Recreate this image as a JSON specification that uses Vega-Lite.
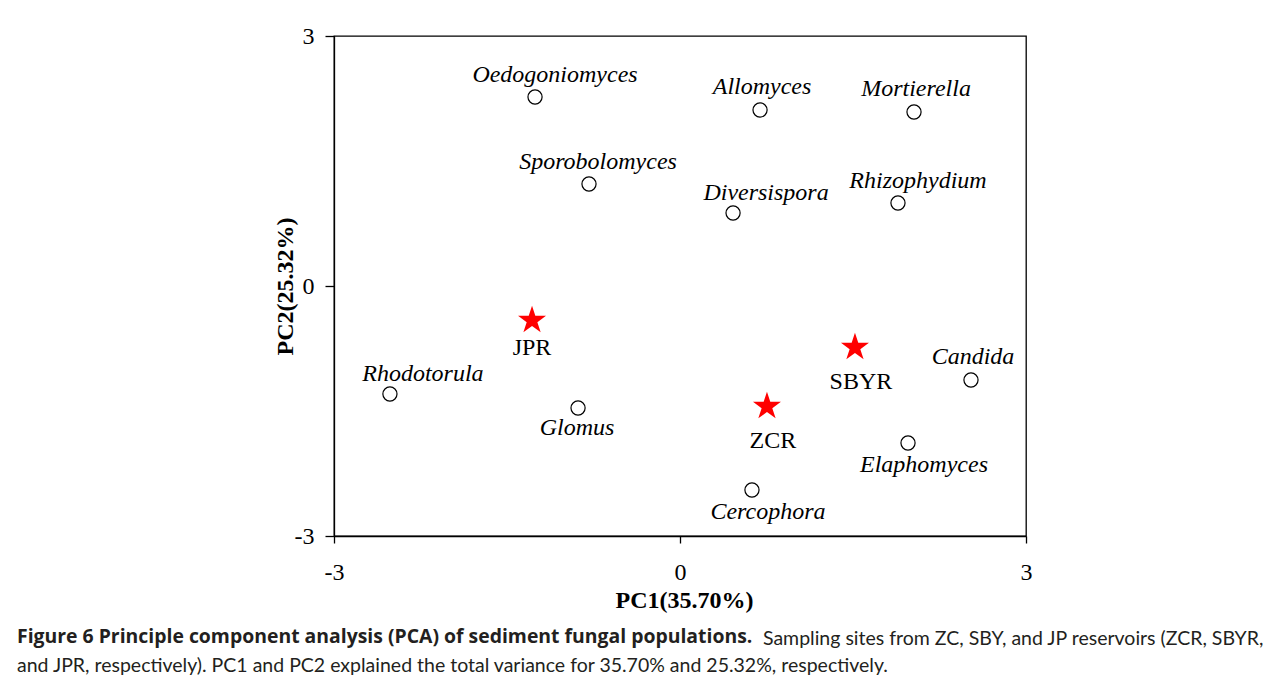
{
  "$schema": "https://vega.github.io/schema/vega-lite/v6.json",
  "width": 692,
  "height": 500,
  "autosize": {"type": "none"},
  "padding": {"left": 334, "top": 36, "right": 256, "bottom": 148},
  "background": "white",
  "config": {
    "view": {"stroke": "#000", "strokeWidth": 1.3},
    "font": "Liberation Serif"
  },
  "title": {
    "text": "Figure 6 Principle component analysis (PCA) of sediment fungal populations.",
    "subtitle": [
      "\u200b\u2003\u2003\u2003\u2003\u2003\u2003\u2003\u2003\u2003\u2003\u2003\u2003\u2003\u2003\u2003\u2003\u2003\u2003\u2003\u2003\u2003\u2003\u2003\u2003\u2003\u2003\u2003\u2003\u2003\u2003\u2003\u2003\u2003\u2003\u2003\u2003\u2003\u2003\u2003\u2003\u2003\u2003\u2003\u2003\u2003\u2003\u2003\u2003\u2003\u2003\u2002\u00a0Sampling sites from ZC, SBY, and JP reservoirs (ZCR, SBYR,",
      "and JPR, respectively). PC1 and PC2 explained the total variance for 35.70% and 25.32%, respectively."
    ],
    "orient": "bottom",
    "anchor": "start",
    "frame": "group",
    "dx": -317,
    "offset": 16,
    "font": "Open Sans",
    "fontSize": 19.4,
    "fontWeight": "bold",
    "color": "#231f20",
    "lineHeight": 26,
    "subtitleFont": "Lato",
    "subtitleFontSize": 19.5,
    "subtitleFontWeight": "normal",
    "subtitleColor": "#231f20",
    "subtitleLineHeight": 27,
    "subtitlePadding": -17
  },
  "datasets": {
    "taxa": [
      {"name": "Oedogoniomyces", "pc1": -1.257, "pc2": 2.268},
      {"name": "Allomyces", "pc1": 0.694, "pc2": 2.112},
      {"name": "Mortierella", "pc1": 2.029, "pc2": 2.088},
      {"name": "Sporobolomyces", "pc1": -0.789, "pc2": 1.224},
      {"name": "Diversispora", "pc1": 0.46, "pc2": 0.876},
      {"name": "Rhizophydium", "pc1": 1.89, "pc2": 0.996},
      {"name": "Rhodotorula", "pc1": -2.515, "pc2": -1.296},
      {"name": "Glomus", "pc1": -0.884, "pc2": -1.464},
      {"name": "Candida", "pc1": 2.523, "pc2": -1.128},
      {"name": "Elaphomyces", "pc1": 1.977, "pc2": -1.884},
      {"name": "Cercophora", "pc1": 0.624, "pc2": -2.448}
    ],
    "sites": [
      {"name": "JPR", "pc1": -1.283, "pc2": -0.413},
      {"name": "SBYR", "pc1": 1.517, "pc2": -0.737},
      {"name": "ZCR", "pc1": 0.754, "pc2": -1.445}
    ]
  },
  "layer": [
    {
      "mark": {"type": "rule", "strokeDash": [2, 4], "strokeWidth": 2, "color": "#000"},
      "encoding": {"x": {"datum": 0, "type": "quantitative"}}
    },
    {
      "mark": {"type": "rule", "strokeDash": [2, 4], "strokeWidth": 2, "color": "#000"},
      "encoding": {"y": {"datum": 0, "type": "quantitative"}}
    },
    {
      "data": {"name": "taxa"},
      "mark": {"type": "point", "shape": "circle", "size": 200, "filled": false, "fill": "white", "stroke": "#000", "strokeWidth": 1.2, "opacity": 1},
      "encoding": {
        "x": {
          "field": "pc1", "type": "quantitative",
          "scale": {"domain": [-3, 3], "nice": false, "zero": false},
          "axis": {
            "values": [-3, 0, 3],
            "labelExpr": "'' + datum.value",
            "title": "PC1(35.70%)",
            "titleFont": "Liberation Serif", "titleFontSize": 24, "titleFontWeight": "bold", "titleColor": "#000",
            "titleX": 350, "titleY": 71, "titleBaseline": "alphabetic", "titleAlign": "center",
            "labelFont": "Liberation Serif", "labelFontSize": 24, "labelColor": "#000",
            "labelPadding": 17, "tickSize": 7, "tickColor": "#000", "tickWidth": 1.3,
            "domainColor": "#000", "domainWidth": 1.3, "grid": false, "labelFlush": false, "labelOverlap": false
          }
        },
        "y": {
          "field": "pc2", "type": "quantitative",
          "scale": {"domain": [-3, 3], "nice": false, "zero": false},
          "axis": {
            "values": [-3, 0, 3],
            "labelExpr": "'' + datum.value",
            "title": "PC2(25.32%)",
            "titleFont": "Liberation Serif", "titleFontSize": 24, "titleFontWeight": "bold", "titleColor": "#000",
            "titleX": -42, "titleY": 250, "titleAngle": -90, "titleBaseline": "alphabetic", "titleAlign": "center",
            "labelFont": "Liberation Serif", "labelFontSize": 24, "labelColor": "#000",
            "labelPadding": 11, "tickSize": 9, "tickColor": "#000", "tickWidth": 1.3,
            "domainColor": "#000", "domainWidth": 1.3, "grid": false, "labelFlush": false, "labelOverlap": false
          }
        }
      }
    },
    {
      "data": {"name": "taxa"},
      "transform": [{"filter": {"field": "name", "oneOf": ["Allomyces", "Mortierella", "Candida"]}}],
      "mark": {"type": "text", "font": "Liberation Serif", "fontStyle": "italic", "fontSize": 24, "baseline": "alphabetic", "align": "center", "dx": 2, "dy": -16, "color": "#000"},
      "encoding": {"x": {"field": "pc1", "type": "quantitative"}, "y": {"field": "pc2", "type": "quantitative"}, "text": {"field": "name"}}
    },
    {
      "data": {"name": "taxa"},
      "transform": [{"filter": {"field": "name", "oneOf": ["Sporobolomyces"]}}],
      "mark": {"type": "text", "font": "Liberation Serif", "fontStyle": "italic", "fontSize": 24, "baseline": "alphabetic", "align": "center", "dx": 9, "dy": -15, "color": "#000"},
      "encoding": {"x": {"field": "pc1", "type": "quantitative"}, "y": {"field": "pc2", "type": "quantitative"}, "text": {"field": "name"}}
    },
    {
      "data": {"name": "taxa"},
      "transform": [{"filter": {"field": "name", "oneOf": ["Oedogoniomyces", "Rhizophydium"]}}],
      "mark": {"type": "text", "font": "Liberation Serif", "fontStyle": "italic", "fontSize": 24, "baseline": "alphabetic", "align": "center", "dx": 20, "dy": -15, "color": "#000"},
      "encoding": {"x": {"field": "pc1", "type": "quantitative"}, "y": {"field": "pc2", "type": "quantitative"}, "text": {"field": "name"}}
    },
    {
      "data": {"name": "taxa"},
      "transform": [{"filter": {"field": "name", "oneOf": ["Diversispora", "Rhodotorula"]}}],
      "mark": {"type": "text", "font": "Liberation Serif", "fontStyle": "italic", "fontSize": 24, "baseline": "alphabetic", "align": "center", "dx": 33, "dy": -13, "color": "#000"},
      "encoding": {"x": {"field": "pc1", "type": "quantitative"}, "y": {"field": "pc2", "type": "quantitative"}, "text": {"field": "name"}}
    },
    {
      "data": {"name": "taxa"},
      "transform": [{"filter": {"field": "name", "oneOf": ["Glomus"]}}],
      "mark": {"type": "text", "font": "Liberation Serif", "fontStyle": "italic", "fontSize": 24, "baseline": "alphabetic", "align": "center", "dx": -1, "dy": 27, "color": "#000"},
      "encoding": {"x": {"field": "pc1", "type": "quantitative"}, "y": {"field": "pc2", "type": "quantitative"}, "text": {"field": "name"}}
    },
    {
      "data": {"name": "taxa"},
      "transform": [{"filter": {"field": "name", "oneOf": ["Elaphomyces", "Cercophora"]}}],
      "mark": {"type": "text", "font": "Liberation Serif", "fontStyle": "italic", "fontSize": 24, "baseline": "alphabetic", "align": "center", "dx": 16, "dy": 29, "color": "#000"},
      "encoding": {"x": {"field": "pc1", "type": "quantitative"}, "y": {"field": "pc2", "type": "quantitative"}, "text": {"field": "name"}}
    },
    {
      "data": {"name": "sites"},
      "mark": {"type": "point", "shape": "M0,-1L0.2245,-0.309L0.951,-0.309L0.363,0.118L0.588,0.809L0,0.382L-0.588,0.809L-0.363,0.118L-0.951,-0.309L-0.2245,-0.309Z", "size": 866, "filled": true, "color": "#ff0000", "opacity": 1, "strokeWidth": 0},
      "encoding": {"x": {"field": "pc1", "type": "quantitative"}, "y": {"field": "pc2", "type": "quantitative"}}
    },
    {
      "data": {"name": "sites"},
      "transform": [{"filter": {"field": "name", "oneOf": ["JPR"]}}],
      "mark": {"type": "text", "font": "Liberation Serif", "fontSize": 24, "baseline": "alphabetic", "align": "center", "dx": 0, "dy": 35, "color": "#000"},
      "encoding": {"x": {"field": "pc1", "type": "quantitative"}, "y": {"field": "pc2", "type": "quantitative"}, "text": {"field": "name"}}
    },
    {
      "data": {"name": "sites"},
      "transform": [{"filter": {"field": "name", "oneOf": ["SBYR", "ZCR"]}}],
      "mark": {"type": "text", "font": "Liberation Serif", "fontSize": 24, "baseline": "alphabetic", "align": "center", "dx": 6, "dy": 42, "color": "#000"},
      "encoding": {"x": {"field": "pc1", "type": "quantitative"}, "y": {"field": "pc2", "type": "quantitative"}, "text": {"field": "name"}}
    }
  ]
}
